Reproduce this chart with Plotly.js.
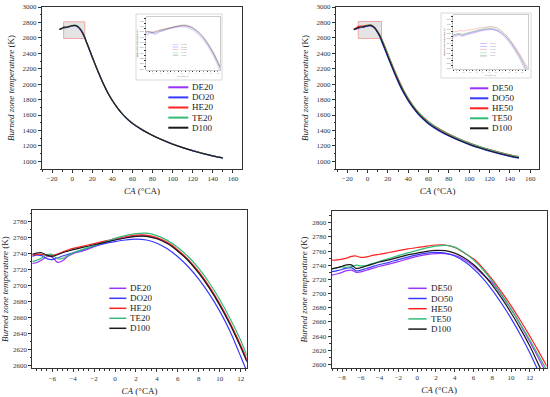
<!DOCTYPE html>
<html>
<head>
<meta charset="utf-8">
<script src="https://cdn.plot.ly/plotly-3.0.1.min.js"></script>
<style>html,body{margin:0;padding:0;background:#fff;}#chart{width:550px;height:397px;}</style>
</head>
<body>
<div id="chart"></div>
<script>
// ---------- DATA ----------
const names20 = ['DE20', 'DO20', 'HE20', 'TE20', 'D100'];
const names50 = ['DE50', 'DO50', 'HE50', 'TE50', 'D100'];

// Full cycle, 20% blends (top-left)
const caFull20 = [-12.5, -10, -8, -6, -4, -2, 0, 2, 4, 6, 8, 10, 12, 14, 16, 18, 20, 22, 24, 26, 28, 30, 32, 34, 36, 40, 45, 50, 55, 60, 70, 80, 90, 100, 110, 120, 130, 140, 150];
const de20Full = [2708, 2720, 2727, 2735, 2739.5, 2748, 2756.5, 2761.5, 2758.5, 2743, 2716, 2676, 2623.5, 2556, 2489, 2421, 2353, 2286, 2221, 2158, 2096, 2036, 1979, 1926, 1876, 1788, 1694, 1614, 1548, 1492, 1406, 1336, 1276, 1223, 1178, 1138, 1102, 1070, 1043];
const do20Full = [2710, 2724, 2736, 2732, 2740.5, 2748.5, 2754.5, 2757.5, 2752.5, 2735.5, 2707.5, 2667.5, 2610, 2545, 2479, 2412, 2345, 2279, 2215, 2152, 2090, 2031, 1975, 1922, 1872, 1785, 1691, 1611, 1545, 1489, 1403, 1333, 1273, 1220, 1175, 1135, 1099, 1067, 1040];
const he20Full = [2711, 2725, 2737.5, 2737, 2746, 2752, 2758, 2762.5, 2759.5, 2744, 2717, 2677, 2625, 2558, 2491, 2423, 2355, 2288, 2223, 2160, 2098, 2038, 1981, 1928, 1878, 1790, 1696, 1616, 1550, 1494, 1408, 1338, 1278, 1225, 1180, 1140, 1104, 1072, 1046];
const te20Full = [2707, 2719, 2729.5, 2738.5, 2740.5, 2749.5, 2758.5, 2764.5, 2762, 2747, 2721, 2682, 2631, 2563, 2495, 2427, 2358, 2290, 2225, 2161, 2099, 2039, 1982, 1929, 1879, 1791, 1696, 1616, 1549, 1493, 1407, 1337, 1277, 1224, 1179, 1139, 1103, 1071, 1044];
const d100Full20 = [2710, 2724, 2739, 2736, 2744.5, 2750.5, 2756.5, 2761, 2758, 2742.5, 2715, 2675, 2622.5, 2555, 2488, 2420, 2352, 2285, 2220, 2157, 2095, 2035, 1978, 1925, 1875, 1787, 1693, 1613, 1547, 1491, 1405, 1335, 1275, 1222, 1177, 1137, 1101, 1069, 1042];

// Full cycle, 50% blends (top-right)
const caFull50 = [-13.5, -11, -9, -7, -5, -3, -1, 1, 3, 5, 7, 9, 11, 12, 14, 16, 18, 20, 22, 24, 26, 28, 30, 32, 34, 36, 40, 45, 50, 55, 60, 70, 80, 90, 100, 110, 120, 130, 140, 149];
const de50Full = [2704, 2716, 2726, 2733, 2734.5, 2741.5, 2749, 2755, 2756.5, 2748, 2727, 2697.5, 2656, 2632, 2570, 2505, 2438, 2371, 2305, 2240, 2176, 2114, 2054, 1997, 1942, 1891, 1801, 1704, 1622, 1554, 1497, 1409, 1338, 1278, 1226, 1181, 1141, 1105, 1073, 1050];
const do50Full = [2706, 2719, 2731, 2736.5, 2737, 2744, 2751.5, 2757, 2757, 2745.5, 2721.5, 2686, 2642, 2616.5, 2547, 2482, 2415, 2348, 2282, 2217, 2153, 2091, 2031, 1974, 1921, 1871, 1782, 1688, 1607, 1540, 1484, 1397, 1327, 1268, 1216, 1171, 1131, 1095, 1063, 1040];
const he50Full = [2715, 2731, 2747, 2752.5, 2753, 2758, 2763, 2767, 2768.5, 2757.5, 2736, 2702, 2662, 2640, 2587, 2527, 2460, 2393, 2327, 2262, 2198, 2136, 2076, 2017, 1963, 1912, 1819, 1720, 1638, 1571, 1514, 1424, 1353, 1293, 1241, 1193, 1153, 1117, 1085, 1062];
const te50Full = [2706, 2722, 2734, 2738, 2741.5, 2749.5, 2757.5, 2764.5, 2768, 2758, 2734, 2698.5, 2657, 2634.5, 2580, 2519, 2452, 2385, 2319, 2254, 2190, 2128, 2068, 2010, 1956, 1905, 1814, 1717, 1634, 1566, 1509, 1420, 1349, 1289, 1236, 1190, 1150, 1114, 1082, 1059];
const d100Full50 = [2708, 2722, 2734, 2741, 2740.5, 2747.5, 2754.5, 2759.5, 2760.5, 2750.5, 2728, 2693.5, 2650.5, 2626, 2562, 2497, 2430, 2363, 2297, 2232, 2168, 2106, 2046, 1989, 1935, 1884, 1794, 1698, 1616, 1549, 1492, 1404, 1333, 1273, 1221, 1176, 1136, 1100, 1068, 1045];

// Zoom around TDC, 20% blends (bottom-left)
const caZoom20 = [-7.9, -7.5, -7, -6.5, -6, -5.5, -5, -4.5, -4, -3, -2, -1, 0, 1, 2, 3, 4, 5, 6, 7, 8, 9, 10, 11, 12, 12.6];
const de20Zoom = [2727, 2728, 2731.5, 2735.5, 2735, 2728.5, 2730.5, 2736, 2739.5, 2743, 2748, 2753, 2756.5, 2759.5, 2761.5, 2761.5, 2758.5, 2752.5, 2743, 2731, 2716, 2697.5, 2676, 2651.5, 2623.5, 2605];
const do20Zoom = [2736, 2737.5, 2737, 2733, 2732, 2734, 2736.5, 2738.5, 2740.5, 2744.5, 2748.5, 2752, 2754.5, 2756.5, 2757.5, 2756.5, 2752.5, 2745.5, 2735.5, 2723, 2707.5, 2689, 2667.5, 2642, 2611, 2592];
const he20Zoom = [2737.5, 2738.5, 2738.5, 2737, 2737, 2739, 2741.5, 2744, 2746, 2749, 2752, 2755, 2758, 2760.5, 2762.5, 2762.5, 2759.5, 2753.5, 2744, 2732, 2717, 2698.5, 2677, 2652.5, 2625, 2607];
const te20Zoom = [2729.5, 2731, 2734, 2738, 2738.5, 2733, 2733.5, 2737, 2740.5, 2745, 2749.5, 2754, 2758.5, 2762, 2764.5, 2765, 2762, 2756, 2747, 2735.5, 2721, 2703, 2682, 2658, 2631, 2612];
const d100Zoom20 = [2738.5, 2740, 2740.5, 2737.5, 2736, 2738, 2740.5, 2742.5, 2744.5, 2747.5, 2750.5, 2753.5, 2756.5, 2759, 2761, 2761, 2758, 2752, 2742.5, 2730.5, 2715, 2696.5, 2675, 2650.5, 2622.5, 2604];

// Zoom around TDC, 50% blends (bottom-right)
const caZoom50 = [-9.1, -8.5, -8, -7.5, -7, -6.5, -6, -5.5, -5, -4.5, -4, -3, -2, -1, 0, 1, 2, 3, 4, 5, 6, 7, 8, 9, 10, 11, 12, 13, 13.8];
const de50Zoom = [2726, 2728, 2730, 2732.5, 2733, 2730, 2730.5, 2732.5, 2734.5, 2736.5, 2738.5, 2741.5, 2745, 2749, 2752.5, 2755, 2756.5, 2756.5, 2754, 2748, 2739, 2727, 2715, 2697.5, 2678, 2656, 2632, 2607, 2587];
const do50Zoom = [2731, 2732.5, 2734, 2736, 2736.5, 2732, 2733, 2735, 2737, 2739, 2741, 2744, 2748, 2751.5, 2754.5, 2757, 2758, 2757, 2753, 2745.5, 2735, 2721.5, 2705, 2686, 2665, 2642, 2616.5, 2588, 2565];
const he50Zoom = [2747, 2747.5, 2748.5, 2750, 2752.5, 2753, 2751, 2751.5, 2753, 2754.5, 2755.5, 2758, 2760.5, 2763, 2765, 2767, 2768.5, 2768.5, 2765, 2757.5, 2749, 2736, 2720, 2702, 2683, 2662, 2640, 2617, 2598];
const te50Zoom = [2734, 2736.5, 2737.5, 2737, 2738, 2740, 2739, 2739.5, 2741.5, 2743.5, 2745.5, 2749.5, 2753.5, 2757.5, 2761, 2764.5, 2767, 2768, 2765.5, 2758, 2747.5, 2734, 2717.5, 2698.5, 2678.5, 2657, 2634.5, 2611, 2592];
const d100Zoom50 = [2735, 2736.5, 2738.5, 2740.5, 2740.5, 2735.5, 2736.5, 2738.5, 2740.5, 2742.5, 2744.5, 2747.5, 2751, 2754.5, 2757, 2759.5, 2761, 2760.5, 2757, 2750.5, 2741, 2728, 2712, 2693.5, 2673, 2650.5, 2626, 2598, 2576];

// ---------- STYLE ----------
const colors = ['#9a33ff', '#3838ff', '#ff2020', '#33bb77', '#1a1a1a'];
const SERIF = 'Liberation Serif, Times New Roman, serif';
const W = 550, H = 397;
const px = p => p / W;
const py = p => 1 - p / H;
const dX = (a, b) => [px(a), px(b)];
const dY = (top, bottom) => [py(bottom), py(top)];

const full20 = [de20Full, do20Full, he20Full, te20Full, d100Full20];
const full50 = [de50Full, do50Full, he50Full, te50Full, d100Full50];
const zoom20 = [de20Zoom, do20Zoom, he20Zoom, te20Zoom, d100Zoom20];
const zoom50 = [de50Zoom, do50Zoom, he50Zoom, te50Zoom, d100Zoom50];

const traces = [];
function addSet(xs, ysets, names, xa, ya, width, opacity) {
  ysets.forEach((ys, i) => {
    traces.push({
      type: 'scatter', mode: 'lines', x: xs, y: ys, name: names[i],
      xaxis: xa, yaxis: ya, showlegend: false, opacity: opacity,
      line: {color: colors[i], width: width, shape: 'spline', smoothing: 0.6},
      hoverinfo: 'skip'
    });
  });
}
addSet(caFull20, full20, names20, 'x', 'y', 1.1, 1);
addSet(caFull50, full50, names50, 'x2', 'y2', 1.1, 1);
addSet(caZoom20, zoom20, names20, 'x3', 'y3', 1.2, 1);
addSet(caZoom50, zoom50, names50, 'x4', 'y4', 1.2, 1);
addSet(caZoom20, zoom20, names20, 'x5', 'y5', 0.5, 0.5);
addSet(caZoom50, zoom50, names50, 'x6', 'y6', 0.5, 0.5);

function ax(o) {
  const base = {
    showline: true, linecolor: '#333', linewidth: 1, mirror: true,
    ticks: 'outside', ticklen: 3, tickwidth: 1, tickcolor: '#333',
    showgrid: false, zeroline: false, fixedrange: true,
    tickfont: {family: SERIF, size: 7, color: '#333'},
    minor: {ticks: 'outside', ticklen: 1.5, tickwidth: 1, tickcolor: '#333', dtick: o.minorDtick, showgrid: false}
  };
  delete o.minorDtick;
  return Object.assign(base, o);
}
const xTitle = (size, standoff) => ({text: '<i>CA</i> (°CA)', font: {family: SERIF, size: size, color: '#222'}, standoff: standoff});
const yTitle = (size, standoff) => ({text: '<i>Burned zone temperature</i> (K)', font: {family: SERIF, size: size, color: '#222'}, standoff: standoff});
const insetAx = (o) => ax(Object.assign({ticklen: 1, linewidth: 0.5, linecolor: '#999', tickcolor: '#999', tickfont: {family: SERIF, size: 2.2, color: '#777'}}, o));

const layout = {
  width: W, height: H,
  margin: {l: 0, r: 0, t: 0, b: 0},
  paper_bgcolor: '#fff', plot_bgcolor: 'rgba(0,0,0,0)',
  font: {family: SERIF, color: '#222'},
  showlegend: false,
  xaxis: ax({domain: dX(42, 242), range: [-30, 169], dtick: 20, tick0: 0, minorDtick: 10, anchor: 'y', title: xTitle(9, 5)}),
  yaxis: ax({domain: dY(7, 169), range: [900, 3000], dtick: 200, tick0: 0, minorDtick: 100, anchor: 'x', title: yTitle(9, 6)}),
  xaxis2: ax({domain: dX(336, 539.3), range: [-31, 169], dtick: 20, tick0: 0, minorDtick: 10, anchor: 'y2', title: xTitle(9, 5)}),
  yaxis2: ax({domain: dY(7, 169), range: [900, 3000], dtick: 200, tick0: 0, minorDtick: 100, anchor: 'x2', title: yTitle(9, 6)}),
  xaxis3: ax({domain: dX(32.3, 246.7), range: [-7.9, 12.58], dtick: 2, tick0: 0, minorDtick: 0.5, anchor: 'y3', title: xTitle(9, 5)}),
  yaxis3: ax({domain: dY(210, 368.3), range: [2596, 2794], dtick: 20, tick0: 0, minorDtick: 10, anchor: 'x3', title: yTitle(9, 3)}),
  xaxis4: ax({domain: dX(331.7, 546.7), range: [-9.1, 13.8], dtick: 2, tick0: 0, minorDtick: 0.5, anchor: 'y4', title: xTitle(9, 5)}),
  yaxis4: ax({domain: dY(211, 368), range: [2595, 2816.5], dtick: 20, tick0: 0, minorDtick: 10, anchor: 'x4', title: yTitle(9, 3)}),
  xaxis5: insetAx({domain: dX(146, 220), range: [-7.9, 12.58], dtick: 2, tick0: 0, minorDtick: 1, anchor: 'y5', title: xTitle(2.6, 1)}),
  yaxis5: insetAx({domain: dY(17, 70), range: [2596, 2794], dtick: 20, tick0: 0, minorDtick: 10, anchor: 'x5', title: yTitle(2.4, 1)}),
  xaxis6: insetAx({domain: dX(453, 528), range: [-9.1, 13.8], dtick: 2, tick0: 0, minorDtick: 1, anchor: 'y6', title: xTitle(2.6, 1)}),
  yaxis6: insetAx({domain: dY(15, 69), range: [2595, 2816.5], dtick: 20, tick0: 0, minorDtick: 10, anchor: 'x6', title: yTitle(2.4, 1)}),
  shapes: [
    {type: 'rect', xref: 'x', yref: 'y', x0: -8.5, x1: 12.6, y0: 2592, y1: 2808, fillcolor: '#e4e4e4', line: {color: '#f2a5a5', width: 1}, layer: 'below'},
    {type: 'rect', xref: 'x2', yref: 'y2', x0: -9.1, x1: 13.8, y0: 2592, y1: 2812, fillcolor: '#e4e4e4', line: {color: '#f2a5a5', width: 1}, layer: 'below'},
    {type: 'rect', xref: 'paper', yref: 'paper', x0: px(136), x1: px(222), y0: py(80), y1: py(14), line: {color: '#c8c8c8', width: 0.7}, fillcolor: 'rgba(0,0,0,0)'},
    {type: 'rect', xref: 'paper', yref: 'paper', x0: px(441), x1: px(531), y0: py(78), y1: py(13), line: {color: '#c8c8c8', width: 0.7}, fillcolor: 'rgba(0,0,0,0)'}
  ],
  annotations: []
};

// Manual legends (compact rows like the original)
function addLegend(names, x0, len, gap, y0, step, fontSize, lw, faded) {
  names.forEach((n, i) => {
    const y = y0 + i * step;
    layout.shapes.push({type: 'line', xref: 'paper', yref: 'paper', x0: px(x0), x1: px(x0 + len), y0: py(y), y1: py(y),
      line: {color: colors[i], width: lw}, opacity: faded ? 0.5 : 1});
    layout.annotations.push({xref: 'paper', yref: 'paper', x: px(x0 + len + gap), y: py(y), xanchor: 'left', yanchor: 'middle',
      showarrow: false, text: n, font: {family: SERIF, size: fontSize, color: faded ? '#777' : '#222'}});
  });
}
addLegend(names20, 168.3, 20, 2, 87.3, 10.1, 9, 2, false);
addLegend(names50, 470, 18.3, 2, 88.3, 10, 9, 2, false);
addLegend(names20, 109.3, 17, 2, 288.3, 10, 9, 1.5, false);
addLegend(names50, 408.3, 18.4, 2, 288.3, 10.2, 9, 1.5, false);
addLegend(names20, 172.7, 5.6, 0.8, 44.3, 2.7, 2.4, 0.6, true);
addLegend(names50, 480, 7, 0.8, 43.5, 3.1, 2.4, 0.6, true);

Plotly.newPlot('chart', traces, layout, {staticPlot: true, displayModeBar: false});
</script>
</body>
</html>
